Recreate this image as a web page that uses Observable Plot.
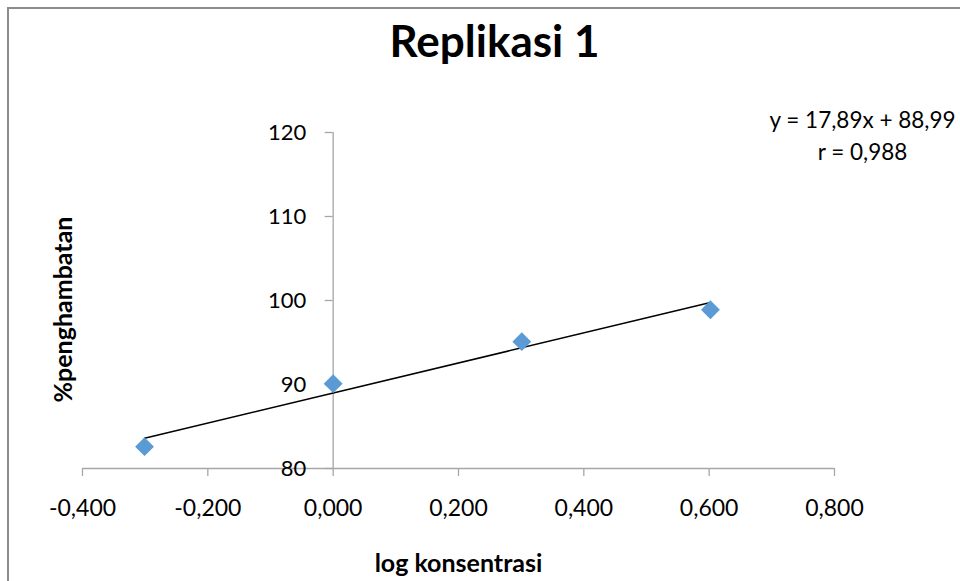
<!DOCTYPE html>
<html><head><meta charset="utf-8">
<script src="https://cdn.jsdelivr.net/npm/d3@7"></script>
<script src="https://cdn.jsdelivr.net/npm/@observablehq/plot@0.6"></script>
<style>
body{margin:0;background:#fff;}
#wrap{position:relative;width:960px;height:581px;overflow:hidden;font-family:Lato,sans-serif;}
#border{position:absolute;left:7px;top:7px;width:1000px;height:1000px;border-top:2px solid #8c8c8c;border-left:2px solid #8c8c8c;pointer-events:none;}
#chart{position:absolute;left:0;top:0;}
</style></head><body>
<div id="wrap"><div id="chart"></div><div id="border"></div></div>
<script>
const logKonsentrasi = [-0.301, 0.000, 0.301, 0.602];
const penghambatan = [82.6, 90.1, 95.1, 98.9];
const xTicks = [-0.4, -0.2, 0, 0.2, 0.4, 0.6, 0.8];
const yTicks = [80, 90, 100, 110, 120];
const titleText = "Replikasi 1";
const xLabel = "log konsentrasi";
const yLabel = "%penghambatan";
const equationText = "y = 17,89x + 88,99\nr = 0,988";

const points = logKonsentrasi.map((x, i) => ({x, y: penghambatan[i]}));
const loc = d3.formatLocale({decimal: ",", thousands: ".", grouping: [3], currency: ["", ""], minus: "-"});
const fmtX = loc.format(".3f");
const axisGray = "#a6a6a6";

const chart = Plot.plot({
  width: 960,
  height: 581,
  marginLeft: 82,
  marginRight: 126,
  marginTop: 132,
  marginBottom: 113,
  style: {fontFamily: "Lato, sans-serif", background: "transparent", color: "#000"},
  x: {domain: [-0.4, 0.8], axis: null},
  y: {domain: [80, 120], axis: null},
  marks: [
    Plot.ruleY([80], {stroke: axisGray, strokeWidth: 1.3}),
    Plot.ruleX([0], {stroke: axisGray, strokeWidth: 1.3}),
    Plot.axisX(xTicks, {label: null, tickSize: 8, tickPadding: 23, tickFormat: fmtX, stroke: axisGray, fill: "#000", fontSize: 23, strokeWidth: 1.3}),
    Plot.axisY(yTicks, {label: null, x: 0, tickSize: 8, tickPadding: 19, stroke: axisGray, fill: "#000", fontSize: 22, strokeWidth: 1.3}),
    Plot.linearRegressionY(points, {x: "x", y: "y", stroke: "#000", strokeWidth: 1.5, ci: 0}),
    Plot.dot(points, {x: "x", y: "y", symbol: "diamond2", r: 8.5, fill: "#5b9bd5", stroke: "none"}),
    Plot.text([titleText], {frameAnchor: "top", dx: 36, dy: -76, lineAnchor: "bottom", fontSize: 44, fontWeight: "bold", fill: "#000"}),
    Plot.text([xLabel], {frameAnchor: "bottom", dy: 95, lineAnchor: "middle", fontSize: 25, fontWeight: "bold", fill: "#000"}),
    Plot.text([yLabel], {frameAnchor: "left", dx: -19, dy: 9, rotate: -90, textAnchor: "middle", lineAnchor: "middle", fontSize: 25, fontWeight: "bold", fill: "#000"}),
    Plot.text([equationText], {frameAnchor: "top-left", dx: 780, dy: 1, textAnchor: "middle", lineAnchor: "middle", lineHeight: 1.42, fontSize: 22.5, fill: "#000"})
  ]
});
document.getElementById("chart").appendChild(chart);
</script>
</body></html>
